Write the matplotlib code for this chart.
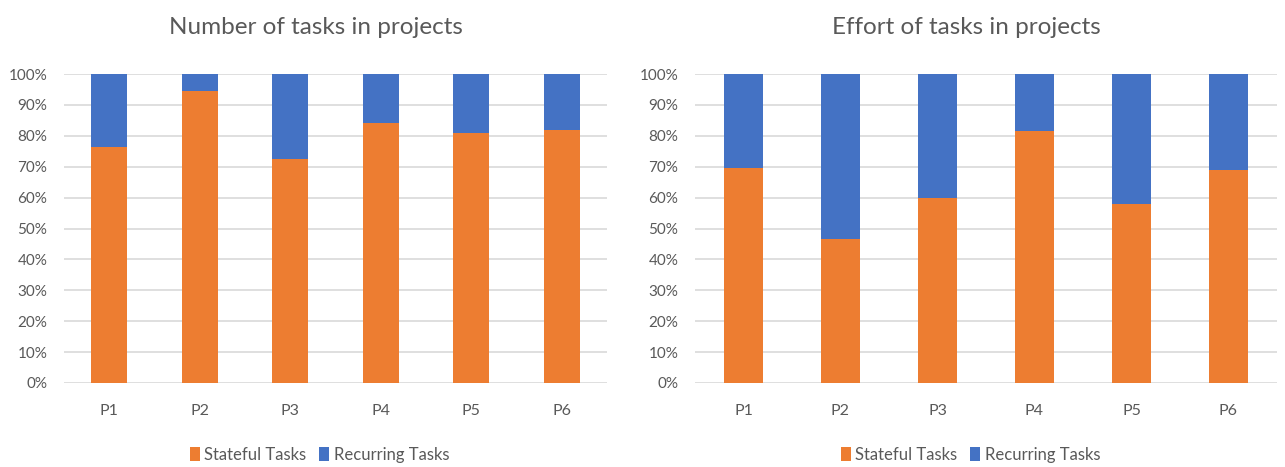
import matplotlib
matplotlib.use("Agg")
import matplotlib.pyplot as plt
from matplotlib.patches import Patch

projects = ["P1", "P2", "P3", "P4", "P5", "P6"]
count_stateful = [76.3, 94.4, 72.4, 84.3, 80.8, 81.9]
count_recurring = [100 - v for v in count_stateful]
effort_stateful = [69.5, 46.6, 60.0, 81.4, 57.8, 69.0]
effort_recurring = [100 - v for v in effort_stateful]
yticks = [0, 10, 20, 30, 40, 50, 60, 70, 80, 90, 100]
ytick_labels = [f"{v}%" for v in yticks]
titles = ["Number of tasks in projects", "Effort of tasks in projects"]
series_names = ["Stateful Tasks", "Recurring Tasks"]

ORANGE = "#ED7D31"
BLUE = "#4472C4"
TXT = "#595959"
GRID = "#D9D9D9"

plt.rcParams["font.family"] = ["Lato", "DejaVu Sans"]

W, H = 1285, 467
fig = plt.figure(figsize=(W / 100, H / 100), dpi=100)

panels = [
    (64, 543, count_stateful, count_recurring, titles[0], 316, 319.5),
    (695, 582, effort_stateful, effort_recurring, titles[1], 966, 970.5),
]

for x0, w, st, rec, title, tx, lx in panels:
    ax = fig.add_axes([x0 / W, 1 - 383 / H, w / W, (383 - 74) / H])
    x = list(range(len(projects)))
    ax.bar(x, st, width=0.4, color=ORANGE, zorder=3)
    ax.bar(x, rec, width=0.4, bottom=st, color=BLUE, zorder=3)
    ax.set_xlim(-0.5, len(projects) - 0.5)
    ax.set_ylim(0, 100)
    ax.set_yticks(yticks)
    ax.set_yticklabels(ytick_labels)
    ax.set_xticks(x)
    ax.set_xticklabels(projects)
    for s in ax.spines.values():
        s.set_visible(False)
    ax.grid(axis="y", color=GRID, linewidth=1.2, zorder=0)
    ax.set_axisbelow(True)
    ax.tick_params(axis="y", length=0, pad=12, labelsize=11, labelcolor=TXT)
    ax.tick_params(axis="x", length=0, pad=15, labelsize=11.5, labelcolor=TXT)
    fig.text(tx / W, 1 - 27 / H, title, ha="center", va="center",
             fontsize=17.5, color=TXT)
    handles = [Patch(facecolor=ORANGE, edgecolor="none"),
               Patch(facecolor=BLUE, edgecolor="none")]
    fig.legend(handles, series_names, loc="center",
               bbox_to_anchor=(lx / W, 1 - 455 / H), ncol=2, frameon=False,
               fontsize=12, labelcolor=TXT, handlelength=0.6,
               handleheight=0.95, handletextpad=0.25, columnspacing=0.8)

fig.savefig("out.png", dpi=100)
